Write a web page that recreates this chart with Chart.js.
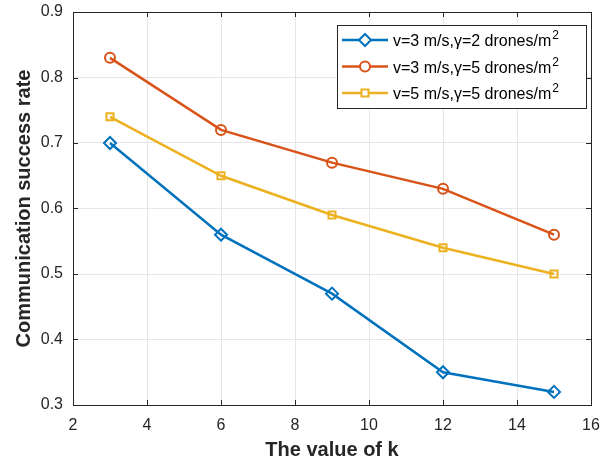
<!DOCTYPE html>
<html>
<head>
<meta charset="utf-8">
<script src="https://cdn.jsdelivr.net/npm/chart.js@4.4.1/dist/chart.umd.min.js"></script>
<style>
  html, body { margin: 0; padding: 0; background: #fff; }
  #wrap { width: 612px; height: 462px; }
</style>
</head>
<body>
<div id="wrap"><canvas id="chart" width="612" height="462"></canvas></div>
<script>
const kValues = [3, 6, 9, 12, 15];
const rateV3G2 = [0.70, 0.56, 0.47, 0.35, 0.32];
const rateV3G5 = [0.83, 0.72, 0.67, 0.63, 0.56];
const rateV5G5 = [0.74, 0.65, 0.59, 0.54, 0.50];
const seriesLabels = [
    'v=3 m/s,\u03b3=2 drones/m\u00b2',
    'v=3 m/s,\u03b3=5 drones/m\u00b2',
    'v=5 m/s,\u03b3=5 drones/m\u00b2'
];
const xTitle = 'The value of k';
const yTitle = 'Communication success rate';

const blue = '#0072BD';
const orange = '#D95319';
const yellow = '#EDB120';
const textColor = '#262626';
const fontName = '"Liberation Sans", Arial, sans-serif';

function toPoints(values) {
    return kValues.map((k, i) => ({ x: k, y: values[i] }));
}

// box around plot + inward ticks, like matlab
const boxPlugin = {
    id: 'boxPlugin',
    afterDatasetsDraw(chart) {
        const { ctx, chartArea: a, scales } = chart;
        ctx.save();
        ctx.strokeStyle = textColor;
        ctx.lineWidth = 1;
        ctx.beginPath();
        scales.x.ticks.forEach(t => {
            const px = Math.round(scales.x.getPixelForValue(t.value)) + 0.5;
            ctx.moveTo(px, a.bottom); ctx.lineTo(px, a.bottom - 5);
            ctx.moveTo(px, a.top); ctx.lineTo(px, a.top + 5);
        });
        scales.y.ticks.forEach(t => {
            const py = Math.round(scales.y.getPixelForValue(t.value)) + 0.5;
            ctx.moveTo(a.left, py); ctx.lineTo(a.left + 5, py);
            ctx.moveTo(a.right, py); ctx.lineTo(a.right - 5, py);
        });
        ctx.stroke();
        ctx.strokeRect(Math.round(a.left) + 0.5, Math.round(a.top) + 0.5,
            Math.round(a.right - a.left), Math.round(a.bottom - a.top));
        ctx.restore();
    },
    afterDraw(chart) {
        // legend box inside top right
        const { ctx, chartArea: a } = chart;
        const w = 249, h = 83;
        const x0 = a.right - 5 - w, y0 = a.top + 13;
        ctx.save();
        ctx.fillStyle = '#fff';
        ctx.fillRect(x0, y0, w, h);
        ctx.strokeStyle = '#262626';
        ctx.lineWidth = 1;
        ctx.strokeRect(x0 + 0.5, y0 + 0.5, w, h);
        ctx.textBaseline = 'alphabetic';
        chart.data.datasets.forEach((ds, i) => {
            const cy = y0 + 15 + i * 26.5;
            ctx.strokeStyle = ds.borderColor;
            ctx.lineWidth = 2.5;
            ctx.beginPath();
            ctx.moveTo(x0 + 5, cy); ctx.lineTo(x0 + 51, cy);
            ctx.stroke();
            ctx.fillStyle = '#fff';
            ctx.lineWidth = 2;
            Chart.helpers.drawPoint(ctx, {
                pointStyle: ds.pointStyle, radius: ds.pointRadius, rotation: 0, borderWidth: 2
            }, x0 + 28, cy);
            // text with raised 2
            const parts = ds.label.split('\u00b2');
            ctx.fillStyle = '#000';
            ctx.font = '16px ' + fontName;
            ctx.fillText(parts[0], x0 + 56, cy + 6);
            const tw = ctx.measureText(parts[0]).width;
            if (parts.length > 1) {
                ctx.font = '12px ' + fontName;
                ctx.fillText('2', x0 + 57 + tw, cy - 1);
            }
        });
        ctx.restore();
    }
};

const common = {
    borderWidth: 2.5,
    pointBorderWidth: 2,
    pointBackgroundColor: 'rgba(0,0,0,0)',
    pointRadius: 5,
    pointHoverRadius: 5,
    tension: 0,
    fill: false
};

new Chart(document.getElementById('chart'), {
    type: 'line',
    data: {
        datasets: [
            { ...common, label: seriesLabels[0], data: toPoints(rateV3G2), borderColor: blue, pointBorderColor: blue, pointStyle: 'rectRot', pointRadius: 6 },
            { ...common, label: seriesLabels[1], data: toPoints(rateV3G5), borderColor: orange, pointBorderColor: orange, pointStyle: 'circle' },
            { ...common, label: seriesLabels[2], data: toPoints(rateV5G5), borderColor: yellow, pointBorderColor: yellow, pointStyle: 'rect', pointRadius: 5 }
        ]
    },
    options: {
        responsive: false,
        animation: false,
        layout: { padding: { top: 12, right: 21, left: 0, bottom: 0 } },
        plugins: {
            legend: { display: false },
            tooltip: { enabled: false }
        },
        scales: {
            x: {
                type: 'linear',
                min: 2, max: 16,
                ticks: { stepSize: 2, color: textColor, font: { family: fontName, size: 16 }, padding: 11, maxRotation: 0 },
                grid: { color: '#e6e6e6', drawTicks: false },
                border: { display: false },
                title: { display: true, text: xTitle, color: textColor, font: { family: fontName, size: 20, weight: 'bold' }, padding: { top: 0, bottom: 0 } },
                afterFit(scale) { scale.height = 57; }
            },
            y: {
                min: 0.3, max: 0.9,
                ticks: { stepSize: 0.1, color: textColor, font: { family: fontName, size: 16 }, padding: 10,
                    callback: v => v.toFixed(1) },
                grid: { color: '#e6e6e6', drawTicks: false },
                border: { display: false },
                title: { display: true, text: yTitle, color: textColor, font: { family: fontName, size: 20, weight: 'bold' }, padding: { top: 12, bottom: 0 } },
                afterFit(scale) {
                    scale.width = 73;
                    scale.paddingTop = 0;
                    scale.paddingBottom = 0;
                }
            }
        }
    },
    plugins: [boxPlugin]
});
</script>
</body>
</html>
